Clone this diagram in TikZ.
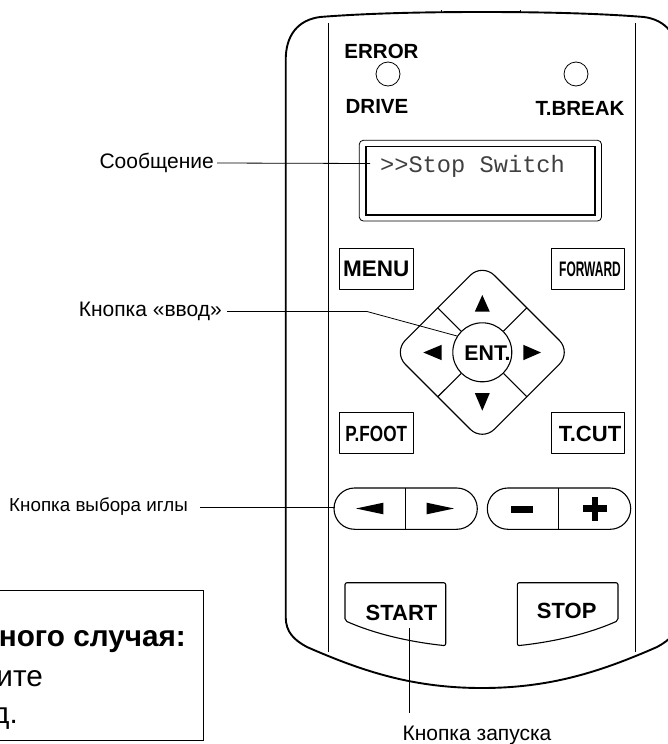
\documentclass[tikz,border=0pt]{standalone}
\usepackage{fontspec}
\setmainfont{Liberation Sans}
\setmonofont{Liberation Mono}
\usepackage{tikz}
\usetikzlibrary{positioning}
\pgfdeclarelayer{nodelayer}
\pgfdeclarelayer{edgelayer}
\pgfsetlayers{nodelayer,edgelayer,main}
\tikzset{
    none/.style = {inner sep=0pt},
    caption/.style = {inner sep=0pt, font=\fontsize{21}{23}\selectfont},
    panel/.style = {inner sep=0pt, font=\fontsize{20.5}{22}\selectfont\bfseries},
    key/.style = {inner sep=0pt, font=\fontsize{22}{24}\selectfont\bfseries},
    note/.style = {inner sep=0pt, anchor=base east, font=\fontsize{29.7}{32}\selectfont},
    thin part/.style = {line width=0.8pt},
    part/.style = {line width=1.1pt, line join=round},
    marker/.style = {fill=black, draw=none}
}

\begin{document}
\begin{tikzpicture}[x=1pt, y=-1pt]
  \useasboundingbox (0, 0) rectangle (668, 744);
  \begin{pgfonlayer}{nodelayer}
    % captions on the left and below
    \node [style=caption, anchor=east] (message) at (214, 163) {Сообщение};
    \node [style=caption, anchor=east] (enter) at (222, 311) {Кнопка «ввод»};
    \node [style=caption, anchor=east, font=\fontsize{18.8}{21}\selectfont] (needle) at (188, 507) {Кнопка выбора иглы};
    \node [style=caption] (start caption) at (477, 735) {Кнопка запуска};
    \node [style=none] (message end) at (370, 163.5) {};
    \node [style=none] (enter bend) at (367, 311.5) {};
    \node [style=none] (enter end) at (457, 336) {};
    \node [style=none] (needle end) at (335, 507) {};
    \node [style=none] (start end) at (409, 628) {};
    \node [style=none] (start foot) at (409, 713) {};
    % panel lamps and display
    \node [style=panel] (error) at (381.5, 51) {ERROR};
    \node [style=panel] (drive) at (377, 106) {DRIVE};
    \node [style=panel] (tbreak) at (580, 108) {T.BREAK};
    \node [circle, draw, thin part, minimum size=24pt, inner sep=0pt] (lamp1) at (388, 74) {};
    \node [circle, draw, thin part, minimum size=24pt, inner sep=0pt] (lamp2) at (576, 74) {};
    \node [inner sep=0pt, font=\fontsize{23.7}{25}\selectfont\ttfamily, text=black!75] (display text) at (472.5, 166) {>{}>Stop Switch};
    % square keys
    \node [rectangle, draw, part, minimum width=74pt, minimum height=41pt, inner sep=0pt] (menu) at (376.3, 269.2) {\fontsize{22.5}{24}\selectfont\bfseries MENU};
    \node [rectangle, draw, part, minimum width=73.3pt, minimum height=41pt, inner sep=0pt] (forward) at (587.7, 269.2) {};
    \node [rectangle, draw, part, minimum width=74pt, minimum height=41pt, inner sep=0pt] (pfoot) at (376.3, 433.2) {};
    \node [rectangle, draw, part, minimum width=73.3pt, minimum height=41pt, inner sep=0pt] (tcut) at (587.7, 433.2) {};
    \node [style=none, font=\fontsize{21}{23}\selectfont\bfseries] (forward text) at (590, 269) {\scalebox{.57}[1]{FORWARD}};
    \node [style=none, font=\fontsize{22}{24}\selectfont\bfseries] (pfoot text) at (376.3, 434) {\scalebox{.78}[1]{P.FOOT}};
    \node [style=key] (tcut text) at (590, 434) {T.CUT};
    % the cross key
    \node [circle, draw, part, minimum size=59pt, inner sep=0pt] (ent) at (482.3, 352.3) {};
    \node [style=none, font=\fontsize{21.3}{23}\selectfont\bfseries] (ent text) at (487.5, 353) {ENT.};
    \node [style=none] (cross1) at (437.7, 307.8) {};
    \node [style=none] (cross2) at (526.9, 307.8) {};
    \node [style=none] (cross3) at (526.9, 396.8) {};
    \node [style=none] (cross4) at (437.7, 396.8) {};
    % bottom keys
    \node [style=key] (start) at (401.5, 612.7) {START};
    \node [style=key] (stop) at (566.7, 610.7) {STOP};
    % cut off note
    \node [style=note, font=\fontsize{29.7}{32}\selectfont\bfseries] (note1) at (186, 646.5) {ного случая:};
    \node [style=note] (note2) at (43, 686) {ите};
    \node [style=note] (note3) at (18, 723) {д.};
  \end{pgfonlayer}
  \begin{pgfonlayer}{edgelayer}
    % housing
    \draw [line width=1.9pt] (285.7, 60) .. controls (285.7, 35) and (298, 20) .. (320, 17)
      .. controls (370, 13) and (430, 12) .. (482, 12)
      .. controls (534, 12) and (594, 13) .. (644, 17)
      .. controls (666, 20) and (678.3, 35) .. (678.3, 60)
      -- (678.3, 617) .. controls (678.3, 632) and (670, 640) .. (657, 647)
      .. controls (600, 672) and (550, 688) .. (482, 688)
      .. controls (414, 688) and (364, 672) .. (307, 647)
      .. controls (294, 640) and (285.7, 632) .. (285.7, 617) -- cycle;
    \draw [thin part] (441.7, 10) -- (441.7, 13);
    \draw [thin part] (520.7, 10) -- (520.7, 13);
    \draw [thin part] (328, 23) -- (328, 652);
    \draw [thin part] (635.7, 23) -- (635.7, 652);
    % display frames
    \draw [thin part, rounded corners=4pt] (359.3, 140.3) rectangle (601.5, 221);
    \draw [line width=1.5pt] (366, 146.3) rectangle (595, 215);
    % cross key outline
    \draw [part, rounded corners=17pt] (482.3, 263.3) -- (571.3, 352.3) -- (482.3, 441.3) -- (393.3, 352.3) -- cycle;
    \draw [part] (cross1.center) to (ent);
    \draw [part] (cross2.center) to (ent);
    \draw [part] (cross3.center) to (ent);
    \draw [part] (cross4.center) to (ent);
    \fill [style=marker] (482.3, 295) -- (489.8, 311.7) -- (474.8, 311.7) -- cycle;
    \fill [style=marker] (482.3, 410.7) -- (489.8, 393) -- (474.8, 393) -- cycle;
    \fill [style=marker] (423.3, 352.5) -- (441.7, 344.8) -- (441.7, 360.2) -- cycle;
    \fill [style=marker] (541, 352.5) -- (523.3, 344.8) -- (523.3, 360.2) -- cycle;
    % pills
    \draw [part, rounded corners=20.6pt] (334, 488) rectangle (477.3, 529.3);
    \draw [part, rounded corners=20.6pt] (487.3, 488) rectangle (630.7, 529.3);
    \draw [thin part] (405, 488) -- (405, 529.3);
    \draw [thin part] (558.3, 488) -- (558.3, 529.3);
    \fill [style=marker] (356, 508.5) -- (383.3, 502.7) -- (383.3, 514.3) -- cycle;
    \fill [style=marker] (454, 508.5) -- (426.7, 502.7) -- (426.7, 514.3) -- cycle;
    \fill [style=marker] (510.7, 506) rectangle (533.3, 512.7);
    \fill [style=marker] (582.7, 505.3) rectangle (607.3, 512);
    \fill [style=marker] (591.7, 496.7) rectangle (598.3, 520.7);
    % start and stop keys
    \draw [part, rounded corners=2pt] (400, 582.7) -- (445.7, 582.7) -- (445.7, 645.7) .. controls (410, 642) and (375, 634) .. (345, 620.7) -- (345, 582.7) -- cycle;
    \draw [part, rounded corners=2pt] (560, 582.7) -- (517.3, 582.7) -- (517.3, 645.7) .. controls (553, 642) and (588, 634) .. (618, 620.7) -- (618, 582.7) -- cycle;
    % note frame
    \draw [thin part] (-5, 590.7) -- (203.5, 590.7) -- (203.5, 740) -- (-5, 740);
    % leader lines
    \draw [thin part] (message.east) ++(3, 0) to (message end.center);
    \draw [thin part] (enter.east) ++(5, 0.5) to (enter bend.center) to (enter end.center);
    \draw [thin part] (needle.east) ++(12, 0) to (needle end.center);
    \draw [thin part] (start end.center) to (start foot.center);
  \end{pgfonlayer}
\end{tikzpicture}
\end{document}
